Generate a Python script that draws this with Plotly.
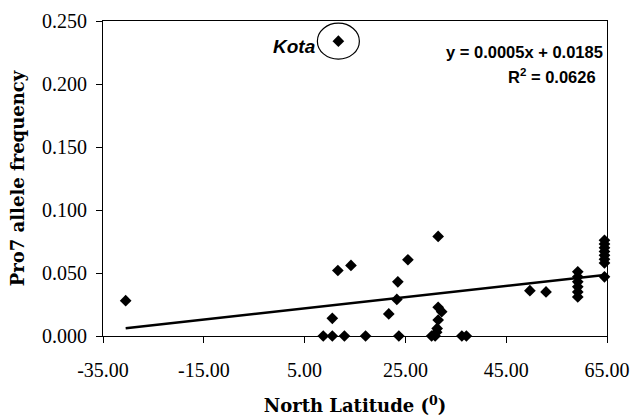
import plotly.graph_objects as go

# Data
latitude = [-30.5,
            8.7, 10.5, 12.9, 17.1, 23.7,
            10.5, 11.6, 14.2, 21.7, 23.5, 23.3, 25.5,
            31.5, 31.5, 32.2, 31.5, 31.3, 30.2, 30.9, 31.2, 36.2, 37.1,
            49.7, 52.9,
            59.2, 59.2, 59.2, 59.2, 59.2, 59.2,
            64.5, 64.5, 64.5, 64.5, 64.5, 64.5, 64.5, 64.5]
pro7_freq = [0.028,
             0.0, 0.0, 0.0, 0.0, 0.0,
             0.014, 0.052, 0.056, 0.0175, 0.043, 0.029, 0.0605,
             0.079, 0.0228, 0.0193, 0.0127, 0.006, 0.0, 0.0, 0.003, 0.0, 0.0,
             0.036, 0.035,
             0.051, 0.047, 0.043, 0.039, 0.035, 0.031,
             0.076, 0.073, 0.070, 0.067, 0.064, 0.061, 0.058, 0.047]
kota_lat = 11.7
kota_freq = 0.234

trend_slope = 0.000445
trend_intercept = 0.0197
trend_x = [min(latitude), max(latitude)]
trend_y = [trend_slope * v + trend_intercept for v in trend_x]

x_ticks = [-35, -15, 5, 25, 45, 65]
x_tick_text = ["-35.00", "-15.00", "5.00", "25.00", "45.00", "65.00"]
y_ticks = [0, 0.05, 0.10, 0.15, 0.20, 0.25]
y_tick_text = ["0.000", "0.050", "0.100", "0.150", "0.200", "0.250"]

fig = go.Figure()
fig.add_trace(go.Scatter(x=trend_x, y=trend_y, mode="lines",
                         line=dict(color="black", width=2.5),
                         hoverinfo="skip"))
fig.add_trace(go.Scatter(x=latitude + [kota_lat], y=pro7_freq + [kota_freq],
                         mode="markers", cliponaxis=False,
                         marker=dict(symbol="diamond", size=9, color="black")))

fig.add_shape(type="circle", xref="x", yref="y",
              xsizemode="pixel", ysizemode="pixel",
              xanchor=kota_lat, yanchor=kota_freq,
              x0=-21, x1=21, y0=-18, y1=18,
              line=dict(color="black", width=1.2))
fig.add_annotation(x=kota_lat, y=kota_freq, xref="x", yref="y",
                   text="<b><i>Kota</i></b>", showarrow=False,
                   xanchor="right", xshift=-20, yshift=-5,
                   font=dict(family="Liberation Sans, Arial", size=19, color="black"))

fig.add_annotation(x=0.996, y=0.902, xref="paper", yref="paper",
                   text="<b>y = 0.0005x + 0.0185</b>", showarrow=False,
                   xanchor="right", yanchor="middle",
                   font=dict(family="Liberation Sans, Arial", size=16.5, color="black"))
fig.add_annotation(x=0.89, y=0.826, xref="paper", yref="paper",
                   text="<b>R<sup>2</sup> = 0.0626</b>", showarrow=False,
                   xanchor="center", yanchor="middle",
                   font=dict(family="Liberation Sans, Arial", size=16.5, color="black"))

fig.update_layout(
    width=634, height=420,
    margin=dict(l=103, r=27, t=21, b=84, autoexpand=False),
    paper_bgcolor="white", plot_bgcolor="white",
    showlegend=False,
    font=dict(family="Liberation Serif, Times New Roman", size=20, color="black"),
)
fig.update_xaxes(range=[-35, 65], tickvals=x_ticks, ticktext=x_tick_text,
                 automargin=False,
                 showgrid=False, zeroline=False,
                 showline=True, mirror=True, linecolor="black", linewidth=1,
                 ticks="outside", ticklen=6, tickcolor="black",
                 ticklabelstandoff=10,
                 title=dict(text="<b>North Latitude (<sup>0</sup>)</b>", standoff=19,
                            font=dict(family="DejaVu Serif", size=18)))
fig.update_yaxes(range=[0, 0.25], tickvals=y_ticks, ticktext=y_tick_text,
                 automargin=False,
                 showgrid=False, zeroline=False,
                 showline=True, mirror=True, linecolor="black", linewidth=1,
                 ticks="outside", ticklen=6, tickcolor="black",
                 ticklabelstandoff=5,
                 title=dict(text="<b>Pro7 allele frequency</b>", standoff=12,
                            font=dict(family="DejaVu Serif", size=18)))

fig.write_html("out.html", config={"displayModeBar": False},
               post_script="document.body.style.margin='0';document.body.style.overflow='hidden';")
